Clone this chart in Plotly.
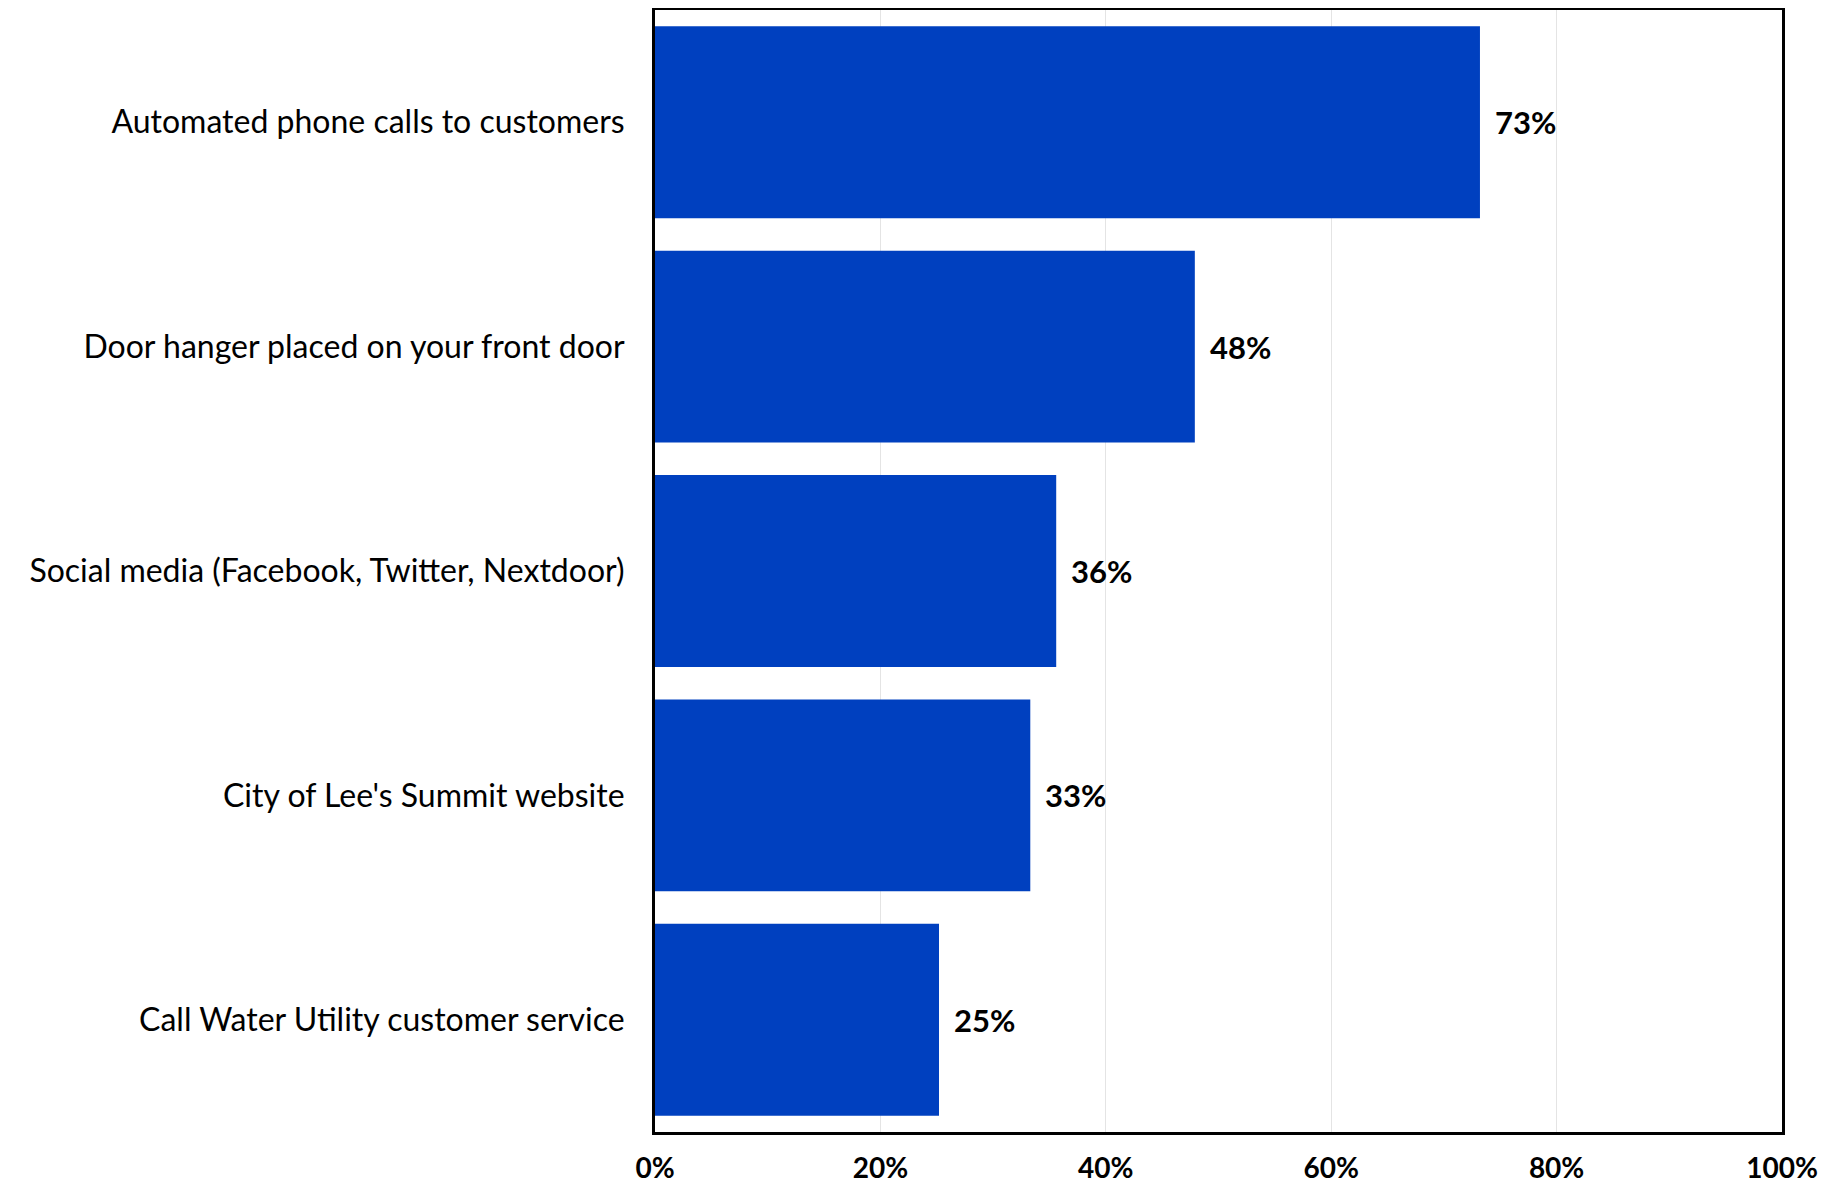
import plotly.graph_objects as go

categories = [
    "Automated phone calls to customers",
    "Door hanger placed on your front door",
    "Social media (Facebook, Twitter, Nextdoor)",
    "City of Lee's Summit website",
    "Call Water Utility customer service",
]
values = [0.732, 0.479, 0.356, 0.333, 0.252]
tick_vals = [0, 0.2, 0.4, 0.6, 0.8, 1.0]
tick_text = ["0%", "20%", "40%", "60%", "80%", "100%"]

FONT = "Lato"
BAR = "#0040BF"

fig = go.Figure()
fig.add_trace(go.Bar(
    x=values, y=categories, orientation="h",
    marker=dict(color=BAR, line=dict(width=0)),
    hoverinfo="skip",
))

for v, c in zip(values, categories):
    fig.add_annotation(
        x=v, y=c, text="<b>%d%%</b>" % round(v * 100),
        showarrow=False, xanchor="left", yanchor="middle", xshift=13,
        font=dict(family=FONT, size=31, color="black"),
    )

fig.update_layout(
    width=1833, height=1176,
    margin=dict(l=647, r=59, t=2, b=52, autoexpand=False),
    paper_bgcolor="white", plot_bgcolor="white",
    bargap=0.145,
    showlegend=False,
    font=dict(family=FONT, color="black"),
)
fig.update_xaxes(
    range=[0, 1], tickvals=tick_vals, ticktext=["<b>%s</b>" % t for t in tick_text],
    showgrid=True, gridcolor="#E4E4E4", gridwidth=1,
    showline=True, linecolor="black", linewidth=3, mirror=True,
    zeroline=False, ticks="", ticklabelstandoff=9, automargin=False,
    tickfont=dict(family=FONT, size=28, color="black"),
)
fig.update_yaxes(
    categoryorder="array", categoryarray=categories, autorange="reversed",
    showgrid=False, showline=True, linecolor="black", linewidth=3, mirror=True,
    ticks="", ticklabelstandoff=21, automargin=False,
    tickfont=dict(family=FONT, size=32, color="black"),
)

fig.write_html("out.html")
